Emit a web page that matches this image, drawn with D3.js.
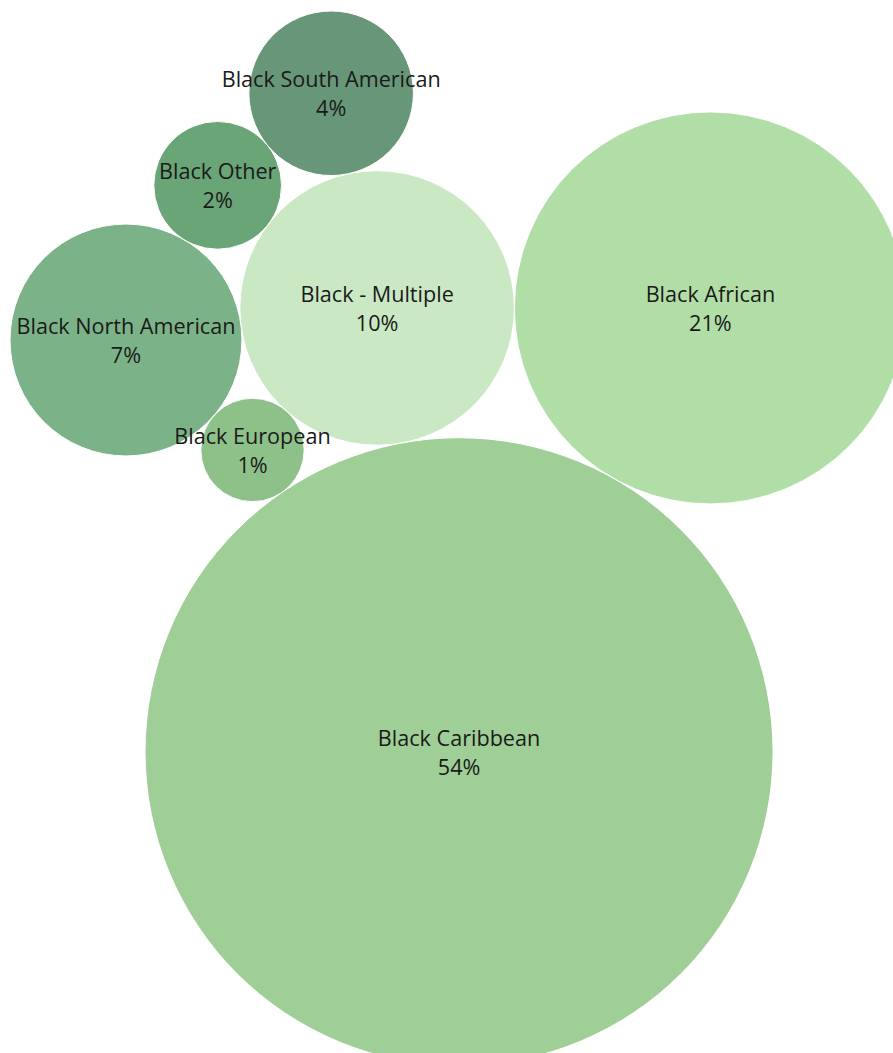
<!DOCTYPE html>
<html>
<head>
<meta charset="utf-8">
<script src="https://cdn.jsdelivr.net/npm/d3@7"></script>
<style>
  html, body { margin: 0; padding: 0; background: #fff; overflow: hidden; }
  svg { display: block; }
</style>
</head>
<body>
<svg id="chart" width="893" height="1053"></svg>
<script>
// Share of the Black population by group (percent)
const categories = [
  "Black - Multiple",
  "Black African",
  "Black Caribbean",
  "Black European",
  "Black North American",
  "Black Other",
  "Black South American"
];
const shares = [10.3, 21.0, 53.9, 1.46, 7.35, 2.23, 3.7];
const colors = ["#cae8c3", "#b1dea7", "#9fcf96", "#8dc189", "#7cb287", "#6aa577", "#689678"];

const width = 893, height = 1053;
const margin = { left: 10, top: 11 };

const rScale = d3.scaleSqrt().domain([0, d3.max(shares)]).range([0, 314]);

const nodes = categories.map((name, i) => ({
  name, value: shares[i], color: colors[i], r: rScale(shares[i])
}));

// Spiral packing: the first bubble is the hub; each following bubble sits
// tangent to the hub and to the bubble placed just before it, going clockwise.
const hub = nodes[0];
hub.x = 0; hub.y = 0;
let angle = 0;
nodes.forEach((n, i) => {
  if (i === 0) return;
  const dist = hub.r + n.r;
  if (i > 1) {
    const prev = nodes[i - 1];
    const a = hub.r + prev.r, c = prev.r + n.r;
    angle += Math.acos((a * a + dist * dist - c * c) / (2 * a * dist));
  }
  n.x = dist * Math.cos(angle);
  n.y = dist * Math.sin(angle);
});

const minX = d3.min(nodes, d => d.x - d.r);
const minY = d3.min(nodes, d => d.y - d.r);
const x = d3.scaleLinear().domain([minX, minX + 1]).range([margin.left, margin.left + 1]);
const y = d3.scaleLinear().domain([minY, minY + 1]).range([margin.top, margin.top + 1]);

const svg = d3.select("#chart");
const fmt = d3.format(".0f");

// Bubbles first, labels on top so no label is hidden by a neighbour
svg.append("g")
  .selectAll("circle")
  .data(nodes)
  .join("circle")
  .attr("cx", d => x(d.x))
  .attr("cy", d => y(d.y))
  .attr("r", d => d.r)
  .attr("fill", d => d.color)
  .attr("stroke", "#ffffff")
  .attr("stroke-width", 1);

const label = svg.append("g")
  .selectAll("text")
  .data(nodes)
  .join("text")
  .attr("transform", d => `translate(${x(d.x)},${y(d.y)})`)
  .attr("text-anchor", "middle")
  .attr("font-family", "'Open Sans', 'Noto Sans', sans-serif")
  .attr("font-size", 21.6)
  .attr("fill", "#1a1a1a");

label.append("tspan")
  .attr("x", 0)
  .attr("y", -6)
  .text(d => d.name);

label.append("tspan")
  .attr("x", 0)
  .attr("y", 23)
  .text(d => fmt(d.value) + "%");
</script>
</body>
</html>
